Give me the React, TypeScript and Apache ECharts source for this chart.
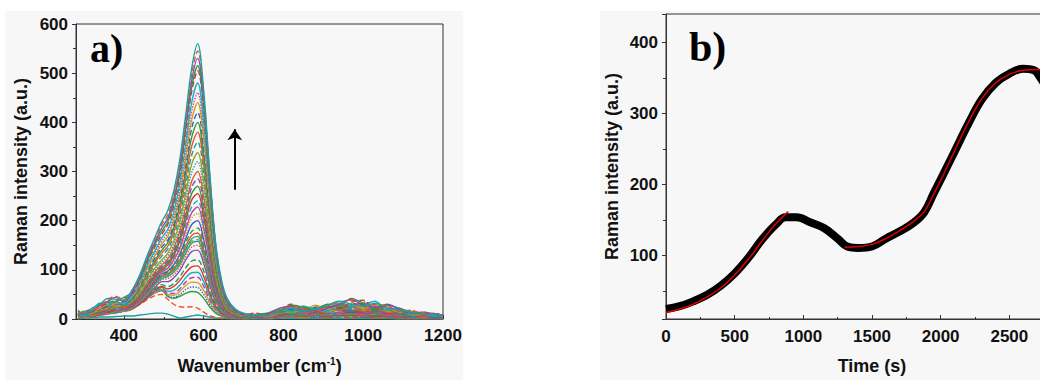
import React, { useEffect, useRef } from "react";
import * as echarts from "echarts";

// ---------- Panel a) : Raman spectra ----------
const WAVENUMBERS = [285, 300, 320, 340, 360, 380, 400, 420, 440, 460, 480, 495, 510, 525, 540, 555, 570, 585, 600, 615, 630, 645, 660, 680, 700, 730, 760, 790, 820, 850, 880, 910, 940, 970, 1000, 1030, 1060, 1090, 1120, 1150, 1180, 1200];

const SPECTRUM_01 = [12, 8, 22, 30, 42, 40, 38, 58, 90, 132, 170, 198, 220, 260, 323, 415, 510, 560, 465, 300, 155, 78, 40, 20, 12, 8, 6, 18, 22, 16, 20, 28, 36, 30, 26, 32, 22, 18, 14, 10, 8, 6];
const SPECTRUM_02 = [18, 10, 15, 28, 36, 44, 35, 52, 85, 125, 160, 185, 205, 245, 305, 395, 485, 530, 445, 290, 150, 72, 35, 18, 10, 6, 10, 22, 26, 18, 14, 22, 30, 40, 28, 24, 30, 20, 12, 14, 10, 8];
const SPECTRUM_03 = [6, 14, 20, 24, 33, 38, 42, 50, 80, 118, 150, 172, 192, 230, 290, 375, 462, 505, 425, 275, 140, 68, 32, 16, 9, 12, 8, 16, 30, 22, 18, 26, 22, 34, 38, 20, 26, 16, 18, 8, 12, 6];
const SPECTRUM_04 = [10, 6, 18, 32, 28, 36, 30, 46, 75, 112, 142, 165, 182, 218, 275, 355, 440, 480, 400, 260, 132, 62, 30, 15, 8, 6, 12, 20, 14, 26, 20, 16, 32, 26, 30, 36, 18, 22, 10, 12, 6, 10];
const SPECTRUM_05 = [14, 10, 12, 22, 30, 32, 34, 44, 70, 104, 132, 152, 168, 200, 252, 325, 405, 440, 365, 238, 122, 58, 28, 14, 7, 10, 6, 14, 24, 18, 28, 20, 26, 30, 22, 28, 24, 14, 16, 8, 10, 5];
const SPECTRUM_06 = [8, 12, 16, 20, 26, 34, 28, 40, 64, 95, 122, 140, 155, 185, 232, 300, 370, 400, 332, 215, 110, 52, 25, 12, 6, 5, 9, 18, 16, 22, 14, 24, 20, 28, 32, 18, 20, 16, 10, 12, 7, 8];
const SPECTRUM_07 = [16, 8, 10, 24, 22, 28, 32, 38, 58, 86, 112, 128, 142, 168, 210, 270, 333, 360, 298, 192, 98, 46, 22, 11, 6, 8, 5, 12, 20, 14, 22, 16, 28, 22, 26, 20, 24, 12, 14, 9, 6, 8];
const SPECTRUM_08 = [6, 10, 14, 18, 28, 24, 30, 36, 55, 82, 106, 120, 134, 158, 198, 255, 315, 338, 280, 180, 92, 43, 20, 10, 5, 6, 8, 16, 12, 20, 18, 14, 22, 30, 20, 24, 16, 18, 8, 10, 8, 6];
const SPECTRUM_09 = [10, 6, 12, 16, 20, 26, 24, 34, 50, 75, 98, 110, 122, 144, 178, 228, 280, 300, 248, 160, 82, 38, 18, 9, 5, 7, 4, 10, 18, 12, 16, 20, 18, 24, 16, 20, 14, 12, 10, 6, 8, 5];
const SPECTRUM_10 = [8, 12, 10, 14, 18, 22, 26, 32, 48, 70, 92, 104, 114, 134, 165, 210, 255, 270, 222, 143, 73, 34, 16, 8, 4, 5, 7, 14, 10, 16, 12, 18, 22, 16, 20, 14, 18, 10, 8, 9, 5, 6];
const SPECTRUM_11 = [5, 8, 14, 12, 16, 20, 22, 30, 45, 66, 86, 98, 106, 124, 150, 190, 228, 240, 196, 126, 64, 30, 14, 7, 4, 6, 5, 12, 14, 10, 18, 12, 16, 20, 14, 16, 12, 14, 6, 8, 6, 4];
const SPECTRUM_12 = [12, 6, 8, 14, 20, 18, 24, 28, 42, 62, 82, 94, 100, 115, 138, 172, 205, 215, 175, 112, 56, 26, 12, 6, 3, 4, 6, 10, 12, 16, 10, 14, 12, 18, 16, 12, 14, 8, 10, 5, 7, 4];
const SPECTRUM_13 = [6, 10, 8, 12, 14, 20, 18, 26, 40, 58, 78, 90, 95, 106, 125, 155, 178, 185, 150, 96, 48, 22, 10, 5, 3, 5, 4, 8, 12, 10, 14, 10, 14, 12, 16, 10, 12, 9, 6, 7, 4, 5];
const SPECTRUM_14 = [10, 5, 12, 10, 16, 14, 20, 24, 38, 55, 75, 86, 90, 100, 116, 142, 163, 168, 136, 86, 43, 20, 9, 5, 3, 4, 6, 10, 8, 12, 9, 12, 10, 14, 12, 14, 8, 10, 6, 5, 6, 3];
const SPECTRUM_15 = [4, 8, 10, 14, 12, 16, 18, 22, 36, 52, 72, 82, 86, 95, 110, 134, 154, 158, 128, 80, 40, 18, 8, 4, 2, 3, 5, 8, 10, 8, 12, 8, 12, 10, 10, 12, 7, 8, 5, 6, 4, 3];
const SPECTRUM_16 = [8, 6, 6, 10, 12, 18, 16, 20, 34, 50, 70, 80, 82, 90, 104, 127, 146, 150, 121, 75, 37, 17, 8, 4, 2, 4, 3, 7, 9, 10, 8, 10, 9, 12, 8, 10, 9, 6, 6, 4, 5, 3];
const SPECTRUM_17 = [5, 6, 8, 10, 14, 12, 16, 20, 32, 46, 62, 70, 66, 72, 86, 104, 118, 120, 98, 60, 30, 14, 6, 3, 2, 3, 4, 6, 8, 6, 9, 7, 10, 8, 9, 7, 6, 5, 4, 4, 3, 2];
const SPECTRUM_18 = [3, 8, 6, 8, 12, 16, 16, 22, 32, 44, 58, 64, 56, 58, 68, 84, 94, 95, 76, 46, 22, 10, 5, 3, 2, 2, 3, 5, 6, 7, 5, 8, 6, 9, 6, 8, 5, 4, 3, 3, 2, 2];
const SPECTRUM_19 = [6, 4, 10, 8, 12, 14, 18, 24, 34, 44, 55, 60, 50, 48, 56, 68, 75, 74, 58, 35, 17, 8, 4, 2, 1, 2, 2, 4, 5, 4, 6, 5, 7, 5, 6, 5, 4, 3, 2, 2, 2, 1];
const SPECTRUM_20 = [4, 6, 5, 10, 12, 14, 20, 26, 34, 44, 54, 58, 46, 42, 46, 52, 56, 54, 42, 25, 12, 6, 3, 2, 1, 1, 2, 3, 4, 3, 5, 3, 5, 4, 4, 3, 3, 2, 2, 1, 1, 1];
const SPECTRUM_21 = [2, 3, 6, 10, 14, 16, 18, 22, 30, 40, 48, 50, 40, 30, 25, 24, 25, 22, 14, 7, 3, 2, 1, 1, 1, 1, 1, 2, 3, 2, 3, 2, 3, 2, 3, 2, 2, 1, 1, 1, 1, 1];
const SPECTRUM_22 = [0, 2, 3, 4, 4, 5, 6, 6, 8, 10, 12, 12, 10, 6, 2, 4, 6, 8, 6, 4, 2, 1, 1, 0, 0, 0, 0, 1, 1, 1, 1, 1, 1, 1, 1, 1, 1, 0, 0, 0, 0, 0];
const SPECTRUM_23 = [14, 12, 18, 26, 40, 46, 40, 56, 88, 128, 165, 192, 212, 252, 314, 405, 498, 545, 455, 295, 152, 75, 38, 19, 11, 7, 8, 20, 24, 20, 16, 26, 34, 38, 24, 30, 26, 16, 16, 12, 9, 7];
const SPECTRUM_24 = [8, 16, 14, 30, 34, 36, 44, 54, 82, 120, 155, 178, 198, 236, 298, 385, 472, 515, 432, 282, 145, 70, 34, 17, 10, 9, 12, 14, 28, 24, 20, 30, 26, 42, 32, 22, 28, 22, 14, 10, 11, 7];
const SPECTRUM_25 = [12, 8, 14, 26, 32, 30, 36, 48, 72, 108, 138, 158, 175, 208, 262, 340, 422, 460, 382, 249, 127, 60, 29, 14, 8, 8, 10, 16, 22, 26, 16, 22, 30, 24, 34, 26, 20, 18, 12, 14, 8, 9];
const SPECTRUM_26 = [10, 14, 18, 18, 28, 34, 30, 42, 67, 100, 127, 146, 160, 192, 242, 312, 388, 420, 348, 226, 115, 55, 26, 13, 7, 9, 7, 14, 20, 16, 24, 26, 22, 32, 26, 24, 22, 12, 14, 10, 6, 7];
const SPECTRUM_27 = [12, 10, 14, 22, 24, 30, 34, 40, 61, 90, 117, 134, 148, 176, 220, 285, 351, 380, 315, 204, 104, 49, 23, 11, 6, 7, 6, 16, 18, 20, 16, 18, 26, 26, 22, 22, 18, 16, 12, 10, 8, 6];
const SPECTRUM_28 = [8, 10, 12, 20, 24, 26, 28, 36, 52, 78, 102, 115, 128, 150, 188, 242, 298, 320, 264, 170, 87, 40, 19, 9, 5, 6, 6, 12, 16, 16, 14, 18, 24, 20, 18, 22, 16, 14, 10, 8, 6, 6];
const SPECTRUM_29 = [6, 8, 14, 12, 22, 24, 22, 32, 49, 72, 95, 107, 118, 139, 172, 219, 268, 285, 235, 152, 78, 36, 17, 8, 4, 6, 5, 12, 14, 12, 18, 14, 20, 18, 22, 16, 14, 12, 8, 8, 6, 4];
const SPECTRUM_30 = [10, 6, 10, 16, 14, 22, 24, 30, 46, 68, 88, 100, 110, 129, 158, 200, 242, 255, 208, 134, 68, 32, 15, 7, 4, 5, 6, 10, 12, 14, 12, 14, 18, 16, 14, 18, 12, 12, 8, 6, 6, 5];
const SPECTRUM_31 = [6, 8, 10, 12, 18, 18, 20, 28, 44, 64, 84, 96, 103, 120, 144, 181, 216, 228, 186, 119, 60, 28, 13, 6, 3, 4, 5, 10, 12, 12, 14, 12, 14, 16, 12, 14, 10, 10, 8, 6, 5, 4];
const SPECTRUM_32 = [8, 6, 10, 12, 14, 18, 20, 26, 41, 60, 80, 92, 97, 110, 131, 163, 192, 200, 162, 104, 52, 24, 11, 5, 3, 4, 4, 8, 10, 12, 10, 12, 12, 14, 12, 12, 10, 8, 6, 6, 4, 4];
const SPECTRUM_33 = [6, 8, 8, 10, 14, 16, 18, 24, 38, 56, 76, 88, 92, 103, 120, 148, 170, 175, 142, 90, 45, 21, 9, 5, 2, 4, 4, 8, 9, 10, 10, 10, 12, 12, 10, 12, 8, 8, 6, 5, 4, 3];
const SPECTRUM_34 = [4, 6, 8, 10, 12, 14, 16, 22, 37, 54, 74, 84, 88, 97, 113, 138, 158, 162, 131, 83, 41, 19, 8, 4, 2, 3, 4, 7, 9, 9, 9, 9, 10, 11, 10, 10, 8, 7, 5, 5, 4, 3];
const SPECTRUM_35 = [6, 6, 8, 10, 12, 14, 16, 20, 33, 48, 66, 76, 76, 84, 98, 120, 137, 140, 113, 70, 35, 16, 7, 4, 2, 3, 3, 6, 8, 8, 8, 8, 9, 10, 8, 9, 7, 6, 5, 4, 3, 3];
const SPECTRUM_36 = [4, 6, 6, 8, 12, 14, 16, 20, 30, 44, 60, 66, 61, 66, 78, 94, 106, 108, 87, 53, 26, 12, 5, 3, 2, 2, 3, 5, 7, 6, 7, 6, 8, 7, 7, 6, 5, 4, 3, 3, 2, 2];
const SPECTRUM_37 = [4, 4, 6, 8, 10, 14, 16, 22, 32, 44, 56, 62, 52, 52, 61, 75, 84, 85, 67, 40, 20, 9, 4, 2, 1, 2, 2, 4, 5, 5, 5, 5, 6, 6, 5, 5, 4, 3, 2, 2, 2, 1];
const SPECTRUM_38 = [3, 5, 6, 8, 10, 12, 18, 24, 33, 44, 54, 58, 47, 44, 50, 60, 65, 64, 50, 30, 15, 7, 3, 2, 1, 1, 2, 3, 4, 4, 4, 4, 5, 4, 4, 4, 3, 2, 2, 1, 1, 1];

// drawn bottom-to-top: low spectra first, tallest last
const SPECTRA = [
  SPECTRUM_22, SPECTRUM_21, SPECTRUM_20, SPECTRUM_38, SPECTRUM_19, SPECTRUM_37, SPECTRUM_18, SPECTRUM_36, SPECTRUM_17,
  SPECTRUM_35, SPECTRUM_16, SPECTRUM_15, SPECTRUM_34, SPECTRUM_14, SPECTRUM_33, SPECTRUM_13, SPECTRUM_32, SPECTRUM_12,
  SPECTRUM_31, SPECTRUM_11, SPECTRUM_30, SPECTRUM_10, SPECTRUM_29, SPECTRUM_09, SPECTRUM_28, SPECTRUM_08, SPECTRUM_07,
  SPECTRUM_27, SPECTRUM_06, SPECTRUM_26, SPECTRUM_05, SPECTRUM_25, SPECTRUM_04, SPECTRUM_03, SPECTRUM_24, SPECTRUM_02,
  SPECTRUM_23, SPECTRUM_01,
];

const SPECTRUM_COLORS = ["#1aa0a0", "#e8582a", "#2e9e3e", "#3b5bc4", "#d4a017", "#c2409c", "#17b0c8", "#e03030", "#2e9e3e", "#7a4fc0", "#e8582a", "#1aa0a0", "#9aa020"];
const SPECTRUM_LINE_TYPES = ["solid", "dashed", "solid", "dotted", "solid", "dashed", "solid"];

// Arrow annotation (data coordinates)
const ARROW_X = 678;
const ARROW_FROM = 263;
const ARROW_TO = 386;

// ---------- Panel b) : intensity vs time ----------
const TIME_MEASURED = [0, 100, 200, 300, 400, 500, 600, 700, 800, 870, 950, 1050, 1150, 1250, 1320, 1400, 1500, 1600, 1700, 1800, 1880, 1950, 2000, 2100, 2200, 2300, 2400, 2500, 2600, 2680, 2720, 2760];
const INTENSITY_MEASURED = [25, 29, 36, 45, 58, 75, 97, 123, 144, 154, 154, 147, 139, 124, 113, 111, 113, 124, 134, 146, 161, 188, 207, 246, 285, 320, 343, 356, 363, 361, 352, 340];

const TIME_FIT_1 = [0, 100, 200, 300, 400, 500, 600, 700, 800, 890];
const INTENSITY_FIT_1 = [20, 25, 32, 42, 55, 73, 95, 121, 145, 162];
const TIME_FIT_2 = [1300, 1400, 1500, 1600, 1700, 1800, 1880, 1950, 2000, 2100, 2200, 2300, 2400, 2500, 2600, 2700, 2800];
const INTENSITY_FIT_2 = [112, 113, 116, 124, 135, 148, 162, 187, 206, 247, 287, 321, 343, 355, 361, 362, 362];

const FONT = "'Liberation Sans', Arial, Helvetica, sans-serif";
const SERIF = "'Liberation Serif', 'Times New Roman', serif";
const INK = "#111";

const labelStyle = { color: INK, fontFamily: FONT, fontWeight: "bold" as const, fontSize: 17 };
const titleStyle = { color: INK, fontFamily: FONT, fontWeight: "bold" as const, fontSize: 18 };
const axisLine = { show: true, lineStyle: { color: "#333", width: 1 } };
const plain = (v: number) => String(v);

// The chart canvas is wider than the page so panel b) runs off the right edge, as in the reference.
const CHART_W = 1080;
const CHART_H = 380;

function pairs(xs: number[], ys: number[]) {
  return xs.map((x, i) => [x, ys[i]]);
}

function buildOption(): any {
  const spectraSeries = SPECTRA.map((s, i) => ({
    type: "line",
    xAxisIndex: 0,
    yAxisIndex: 0,
    data: pairs(WAVENUMBERS, s),
    showSymbol: false,
    smooth: 0.35,
    silent: true,
    z: 2,
    lineStyle: {
      width: 1.4,
      color: SPECTRUM_COLORS[i % SPECTRUM_COLORS.length],
      type: SPECTRUM_LINE_TYPES[i % SPECTRUM_LINE_TYPES.length],
    },
  }));

  const arrowSeries = {
    type: "line",
    xAxisIndex: 0,
    yAxisIndex: 0,
    data: [],
    silent: true,
    z: 4,
    markLine: {
      silent: true,
      symbol: ["none", "arrow"],
      symbolSize: 11,
      label: { show: false },
      lineStyle: { color: "#000", width: 2, type: "solid" },
      emphasis: { disabled: true },
      data: [[{ coord: [ARROW_X, ARROW_FROM] }, { coord: [ARROW_X, ARROW_TO] }]],
    },
  };

  return {
    animation: false,
    backgroundColor: "#ffffff",
    graphic: [
      { type: "rect", z: -100, shape: { x: 5, y: 11, width: 458, height: 369 }, style: { fill: "#f7f7f7" } },
      { type: "rect", z: -100, shape: { x: 600, y: 11, width: 480, height: 369 }, style: { fill: "#f7f7f7" } },
      { type: "text", z: 100, x: 90, y: 48, style: { text: "a)", font: `bold 40px ${SERIF}`, fill: "#000", verticalAlign: "middle", align: "left" } },
      { type: "text", z: 100, x: 689, y: 47, style: { text: "b)", font: `bold 42px ${SERIF}`, fill: "#000", verticalAlign: "middle", align: "left" } },
    ],
    grid: [
      { left: 76, right: CHART_W - 443, top: 24, bottom: 61, show: true, borderColor: "#333", borderWidth: 1, backgroundColor: "transparent" },
      { left: 666, right: CHART_W - 1078, top: 14, bottom: 56, show: true, borderColor: "#333", borderWidth: 1, backgroundColor: "transparent" },
    ],
    xAxis: [
      {
        type: "value",
        gridIndex: 0,
        min: 280,
        max: 1200,
        splitNumber: 5,
        axisLine,
        axisTick: { show: true, inside: true, length: 4, lineStyle: { color: "#333" } },
        minorTick: { show: true, splitNumber: 2, length: 2, lineStyle: { color: "#333" } },
        splitLine: { show: false },
        axisLabel: { ...labelStyle, margin: 8, showMinLabel: false, formatter: plain },
        name: "{t|Wavenumber (cm}{s|-1}{t|)}",
        nameLocation: "middle",
        nameGap: 37,
        nameTextStyle: {
          rich: {
            t: { ...titleStyle, lineHeight: 20 },
            s: { ...titleStyle, fontSize: 10, verticalAlign: "top", lineHeight: 20 },
          },
        },
      },
      {
        type: "value",
        gridIndex: 1,
        min: 0,
        max: 3000,
        interval: 500,
        axisLine,
        axisTick: { show: true, inside: true, length: 4, lineStyle: { color: "#333" } },
        minorTick: { show: true, splitNumber: 2, length: 2, lineStyle: { color: "#333" } },
        splitLine: { show: false },
        axisLabel: { ...labelStyle, margin: 9, showMaxLabel: false, formatter: plain },
        name: "Time (s)",
        nameLocation: "middle",
        nameGap: 38,
        nameTextStyle: titleStyle,
      },
    ],
    yAxis: [
      {
        type: "value",
        gridIndex: 0,
        min: 0,
        max: 600,
        interval: 100,
        axisLine,
        axisTick: { show: true, inside: false, length: 4, lineStyle: { color: "#333" } },
        minorTick: { show: true, splitNumber: 2, length: 3, lineStyle: { color: "#333" } },
        splitLine: { show: false },
        axisLabel: { ...labelStyle, margin: 8, formatter: plain },
        name: "Raman intensity (a.u.)",
        nameLocation: "middle",
        nameRotate: 90,
        nameGap: 46,
        nameTextStyle: titleStyle,
      },
      {
        type: "value",
        gridIndex: 1,
        min: 11,
        max: 440,
        splitNumber: 5,
        axisLine,
        axisTick: { show: true, inside: false, length: 4, lineStyle: { color: "#333" } },
        minorTick: { show: true, splitNumber: 2, length: 3, lineStyle: { color: "#333" } },
        splitLine: { show: false },
        axisLabel: { ...labelStyle, margin: 8, showMinLabel: false, showMaxLabel: false, formatter: plain },
        name: "Raman intensity (a.u.)",
        nameLocation: "middle",
        nameRotate: 90,
        nameGap: 45,
        nameTextStyle: titleStyle,
      },
    ],
    series: [
      ...spectraSeries,
      arrowSeries,
      {
        type: "line",
        xAxisIndex: 1,
        yAxisIndex: 1,
        data: pairs(TIME_MEASURED, INTENSITY_MEASURED),
        showSymbol: false,
        smooth: 0.4,
        silent: true,
        z: 2,
        lineStyle: { color: "#000", width: 8 },
      },
      {
        type: "line",
        xAxisIndex: 1,
        yAxisIndex: 1,
        data: pairs(TIME_FIT_1, INTENSITY_FIT_1),
        showSymbol: false,
        smooth: 0.4,
        silent: true,
        z: 3,
        lineStyle: { color: "#e00000", width: 1.5 },
      },
      {
        type: "line",
        xAxisIndex: 1,
        yAxisIndex: 1,
        data: pairs(TIME_FIT_2, INTENSITY_FIT_2),
        showSymbol: false,
        smooth: 0.4,
        silent: true,
        z: 3,
        lineStyle: { color: "#e00000", width: 1.5 },
      },
    ],
  };
}

export default function App() {
  const ref = useRef<HTMLDivElement>(null);
  useEffect(() => {
    if (!ref.current) return;
    const chart = echarts.init(ref.current, undefined, { renderer: "svg" });
    chart.setOption(buildOption());
    return () => chart.dispose();
  }, []);
  return (
    <div style={{ position: "fixed", left: 0, top: 0, width: 1040, height: CHART_H, overflow: "hidden", background: "#fff" }}>
      <div ref={ref} style={{ width: CHART_W, height: CHART_H }} />
    </div>
  );
}
